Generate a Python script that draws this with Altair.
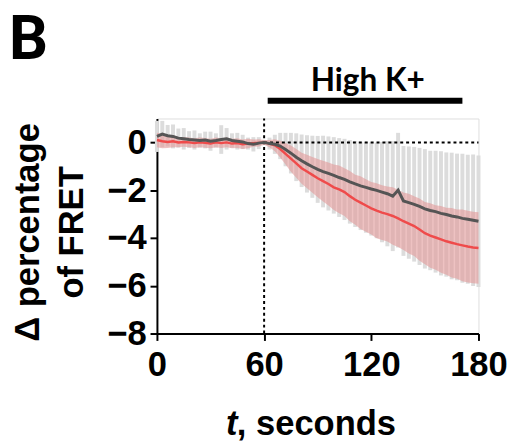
import altair as alt
import pandas as pd

# time (s)
t = list(range(0, 181, 3))

# grey trace: mean and SD
grey_mean = [0.25, 0.35, 0.28, 0.25, 0.18, 0.15, 0.12, 0.10, 0.08, 0.10,
             0.05, 0.08, 0.12, 0.15, 0.08, 0.05, 0.02, -0.05, -0.08, -0.03,
             0.00, -0.05, -0.08, -0.15, -0.30, -0.45, -0.62, -0.77, -0.90, -1.02,
             -1.13, -1.22, -1.30, -1.38, -1.47, -1.55, -1.65, -1.74, -1.82, -1.88,
             -1.95, -2.01, -2.08, -2.15, -2.25, -2.00, -2.45, -2.52, -2.59, -2.68,
             -2.78, -2.85, -2.90, -2.97, -3.02, -3.08, -3.12, -3.18, -3.22, -3.26,
             -3.30]
grey_sd = [0.65, 0.55, 0.45, 0.50, 0.40, 0.45, 0.35, 0.40, 0.30, 0.35,
           0.40, 0.30, 0.60, 0.45, 0.30, 0.35, 0.30, 0.25, 0.30, 0.25,
           0.10, 0.25, 0.40, 0.55, 0.70, 0.85, 1.00, 1.10, 1.20, 1.30,
           1.40, 1.50, 1.55, 1.60, 1.65, 1.70, 1.75, 1.80, 1.85, 1.90,
           1.95, 2.00, 2.10, 2.20, 2.30, 2.40, 2.30, 2.35, 2.40, 2.45,
           2.50, 2.50, 2.55, 2.60, 2.60, 2.65, 2.65, 2.70, 2.70, 2.75,
           2.75]

# red trace: mean and SD
red_mean = [0.10, 0.05, 0.02, 0.05, 0.00, 0.02, 0.00, -0.03, 0.00, -0.02,
            -0.05, 0.00, -0.03, 0.00, -0.05, -0.03, -0.08, -0.05, -0.03, -0.02,
            0.00, -0.05, -0.12, -0.28, -0.48, -0.68, -0.88, -1.08, -1.22, -1.36,
            -1.50, -1.62, -1.74, -1.88, -1.97, -2.08, -2.25, -2.40, -2.52, -2.64,
            -2.76, -2.86, -2.94, -3.00, -3.08, -3.18, -3.30, -3.40, -3.50, -3.65,
            -3.80, -3.90, -3.98, -4.06, -4.14, -4.20, -4.26, -4.31, -4.36, -4.40,
            -4.42]
red_sd = [0.30, 0.30, 0.25, 0.25, 0.20, 0.20, 0.20, 0.20, 0.20, 0.20,
          0.20, 0.20, 0.20, 0.20, 0.20, 0.20, 0.20, 0.20, 0.15, 0.15,
          0.10, 0.15, 0.25, 0.35, 0.45, 0.55, 0.60, 0.65, 0.70, 0.75,
          0.80, 0.85, 0.90, 0.95, 1.00, 1.00, 1.05, 1.05, 1.10, 1.10,
          1.10, 1.15, 1.15, 1.15, 1.20, 1.20, 1.20, 1.25, 1.25, 1.30,
          1.30, 1.35, 1.35, 1.40, 1.40, 1.45, 1.45, 1.50, 1.50, 1.50,
          1.50]

x_ticks = [0, 60, 120, 180]
y_ticks = [-8, -6, -4, -2, 0]
stim_start, stim_end = 62, 171
stim_label = "High K+"
panel_label = "B"

df = pd.DataFrame({"t": t, "g": grey_mean, "gs": grey_sd, "r": red_mean, "rs": red_sd})
one = pd.DataFrame({"k": [0]})

FONT = "Liberation Sans"

xscale = alt.Scale(domain=[0, 180], nice=False, zero=False)
yscale = alt.Scale(domain=[-8, 1], nice=False, zero=False)

xaxis = alt.Axis(values=x_ticks, title=None, grid=False, domainColor="black", domainWidth=2,
                 tickColor="black", tickWidth=2, tickSize=7, labelFont=FONT, labelFontWeight="bold",
                 labelFontSize=35, labelColor="black", labelPadding=8, labelFlush=False)
yaxis = alt.Axis(values=y_ticks, title=["Δ percentage", "of FRET"], grid=False, domainColor="black",
                 domainWidth=2, tickColor="black", tickWidth=2, tickSize=7, labelFont=FONT,
                 labelFontWeight="bold", labelFontSize=35, labelColor="black", labelPadding=4,
                 titleFont=FONT, titleFontWeight="bold", titleFontSize=35, titleColor="black",
                 titleAngle=270, titleAlign="center", titleBaseline="alphabetic",
                 titleX=-120, titleY=115, titleLineHeight=45)

base = alt.Chart(df).transform_calculate(
    g_lo="datum.g - datum.gs", g_hi="datum.g + datum.gs",
    r_lo="datum.r - datum.rs", r_hi="datum.r + datum.rs")

X = alt.X("t:Q", scale=xscale, axis=xaxis)

grey_bars = base.mark_rule(color="#dcdcdc", strokeWidth=4).encode(
    x=X, y=alt.Y("g_lo:Q", scale=yscale, axis=yaxis), y2="g_hi:Q")
red_band = base.mark_area(color="#e29a9a", opacity=0.6).encode(
    x=X, y=alt.Y("r_lo:Q", scale=yscale, axis=yaxis), y2="r_hi:Q")

hline = alt.Chart(one).mark_rule(color="black", strokeWidth=2, strokeDash=[3, 3]).encode(
    x=alt.datum(60, scale=xscale), x2=alt.datum(180), y=alt.datum(0, scale=yscale))
vline = alt.Chart(one).mark_rule(color="black", strokeWidth=2, strokeDash=[3, 3]).encode(
    x=alt.datum(60, scale=xscale), y=alt.datum(-8, scale=yscale), y2=alt.datum(1))

red_line = base.mark_line(color="#ef4b4b", strokeWidth=2.5).encode(
    x=X, y=alt.Y("r:Q", scale=yscale, axis=yaxis))
grey_line = base.mark_line(color="#555555", strokeWidth=3).encode(
    x=X, y=alt.Y("g:Q", scale=yscale, axis=yaxis))

stim_bar = alt.Chart(one).mark_rule(color="black", strokeWidth=6).encode(
    x=alt.datum(stim_start, scale=xscale), x2=alt.datum(stim_end), y=alt.value(-18))
stim_text = alt.Chart(one).mark_text(font="Lato", fontWeight="bold", fontSize=32, color="black",
                                     align="center", baseline="alphabetic").encode(
    x=alt.datum((stim_start + stim_end) / 2 + 1.5, scale=xscale), y=alt.value(-28),
    text=alt.value(stim_label))
b_text = alt.Chart(one).mark_text(font="Roboto", fontWeight="bold", fontSize=62, color="black",
                                  align="left", baseline="alphabetic").encode(
    x=alt.value(-150), y=alt.value(-60), text=alt.value(panel_label))
t_text = alt.Chart(one).mark_text(font=FONT, fontWeight="bold", fontStyle="italic", fontSize=35,
                                  color="black", align="left", baseline="alphabetic").encode(
    x=alt.value(70), y=alt.value(321), text=alt.value("t"))
sec_text = alt.Chart(one).mark_text(font=FONT, fontWeight="bold", fontSize=35,
                                    color="black", align="left", baseline="alphabetic").encode(
    x=alt.value(81), y=alt.value(321), text=alt.value(", seconds"))

chart = alt.layer(grey_bars, red_band, hline, vline, red_line, grey_line,
                  stim_bar, stim_text, b_text, t_text, sec_text).properties(
    width=326, height=218,
    padding={"left": 151, "top": 109, "right": 35, "bottom": 111},
    autosize=alt.AutoSizeParams(type="none"),
).configure_view(stroke=None).configure(background="white")

chart.save("out.html", embed_options={"renderer": "svg", "actions": False})
